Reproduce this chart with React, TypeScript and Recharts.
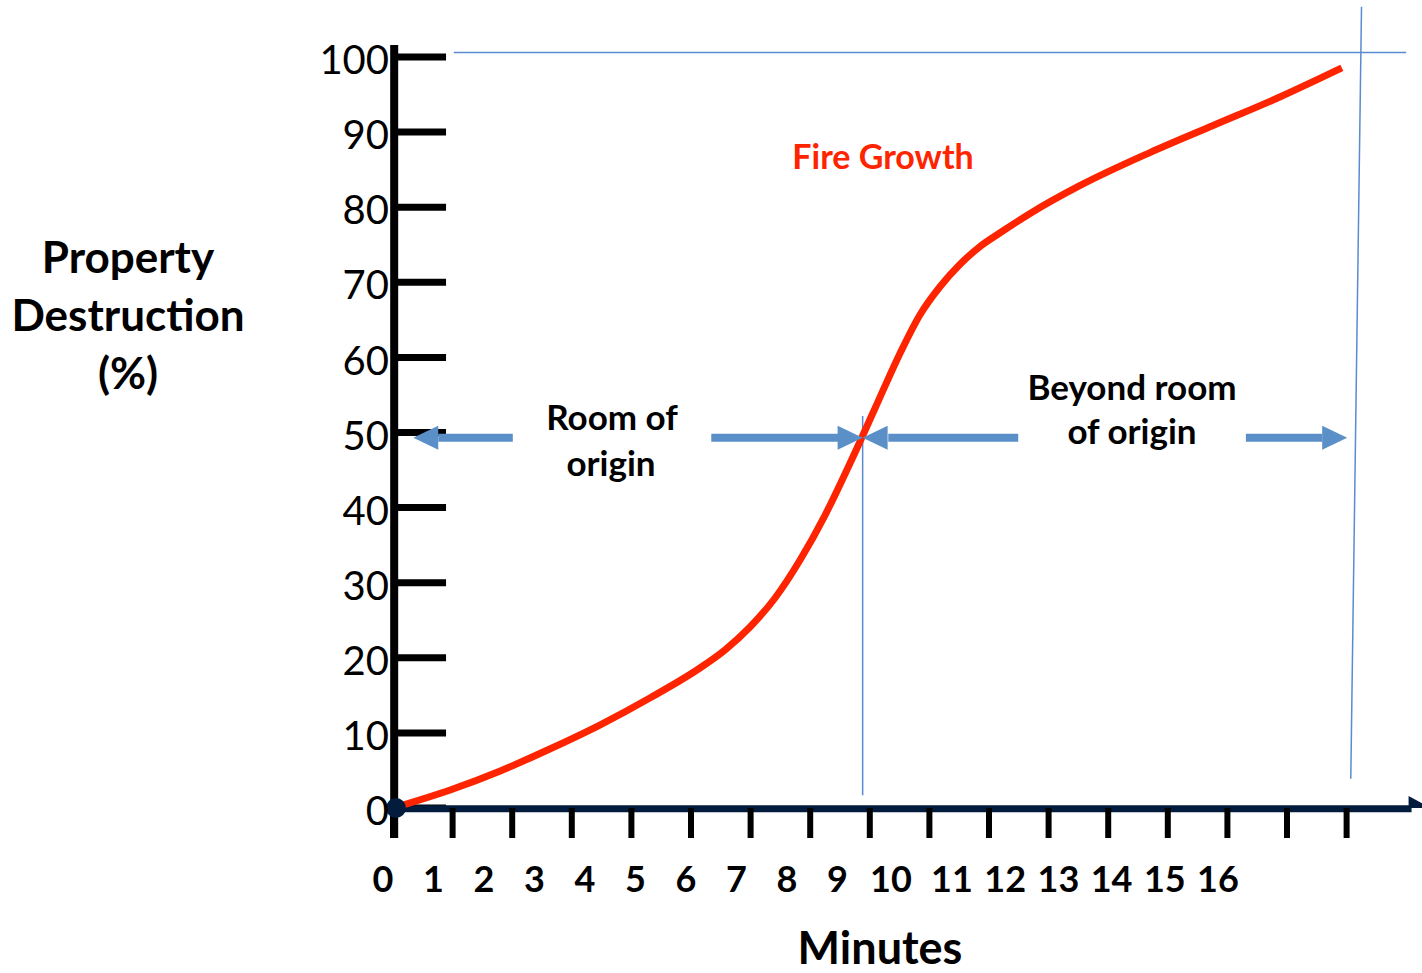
import React from 'react';
import { ComposedChart, Line, Scatter, XAxis, YAxis, ReferenceLine, ReferenceDot } from 'recharts';

// ---- data (x in axis-tick units, y in % destruction) ----
const curveMinutes = [0, 0.96, 1.8, 2.63, 3.47, 4.31, 5.15, 5.57, 5.99, 6.41, 6.83, 7.25, 7.67, 8.09, 8.51, 8.84, 9.18, 9.51, 9.85, 10.18, 10.69, 11.53, 12.7, 13.76, 14.88, 15.92];
const curveDestruction = [0, 2.4, 4.93, 7.86, 11.05, 14.65, 18.64, 21.04, 24.1, 27.96, 33.02, 39.01, 45.94, 53.26, 60.59, 65.65, 69.44, 72.37, 74.77, 76.56, 79.16, 82.89, 87.27, 90.88, 94.67, 98.54];

const yTickValues = [0, 10, 20, 30, 40, 50, 60, 70, 80, 90, 100];
const xTickValues = [0, 1, 2, 3, 4, 5, 6, 7, 8, 9, 10, 11, 12, 13, 14, 15, 16];
const xTickLabels = ['0', '1', '2', '3', '4', '5', '6', '7', '8', '9', '10', '11', '12', '13', '14', '15', '16'];

const arrowLevel = 49.3;
const shaftStarts = [2.01, 5.34, 10.49, 14.31];
const shaftEnds = [0.76, 7.55, 8.31, 15.59];
const arrowTips = [0.34, 7.88, 7.88, 16.01];
const arrowDirs = ['left', 'right', 'left', 'right'];

const flashoverMinute = 7.88;
const flashoverTop = 52.2;
const flashoverBottom = 1.7;
const topLineLevel = 100.6;
const topLineStart = 1.02;
const topLineEnd = 17.0;
const slantTop = { x: 16.25, y: 106.7 };
const slantBottom = { x: 16.07, y: 3.9 };
const axisEnd = 17.04;
const yAxisTop = 101.6;
const yTickLength = 0.89;

const X_MAX = 17.265;
const Y_MAX = 106.92;

const curveData = curveMinutes.map((x, i) => ({ x, y: curveDestruction[i] }));
const shafts = shaftStarts.map((s, i) => [
  { x: s, y: arrowLevel },
  { x: shaftEnds[i], y: arrowLevel },
]);
const heads = arrowTips.map((x, i) => ({ x, y: arrowLevel, dir: arrowDirs[i] }));
const axisHead = [{ x: axisEnd, y: 0 }];

const FONT = "Lato, 'Open Sans', sans-serif";
const NAVY = '#031c3d';
const BLUE = '#5b8fc8';
const THIN = '#5a8bcf';
const RED = '#ff2400';

const ArrowHead = (props: any) => {
  const { cx, cy, payload } = props;
  const d = payload.dir === 'left' ? -1 : 1;
  const L = 25;
  const H = 12;
  return (
    <polygon
      points={`${cx},${cy} ${cx - d * L},${cy - H} ${cx - d * L},${cy + H}`}
      fill={BLUE}
    />
  );
};

const AxisHead = (props: any) => {
  const { cx, cy } = props;
  return <polygon points={`${cx},${cy - 12} ${cx + 24},${cy + 1} ${cx},${cy + 14}`} fill={NAVY} />;
};

const labelCenter = (k: number) =>
  k < 10 ? 383 + 50.5 * k : k === 10 ? 891 : 952 + (k - 11) * 53.2;

const XTick = (props: any) => {
  const { index } = props;
  return (
    <text
      x={labelCenter(index)}
      y={892}
      textAnchor="middle"
      fontFamily={FONT}
      fontWeight={700}
      fontSize={36}
      fill="#000"
    >
      {xTickLabels[index]}
    </text>
  );
};

export default function App() {
  return (
    <div style={{ position: 'absolute', left: 0, top: 0, width: 1422, height: 973, background: '#fff' }}>
      <ComposedChart width={1422} height={973} margin={{ top: 5, right: 0, bottom: 0, left: 0 }}>
        <XAxis
          type="number"
          dataKey="x"
          domain={[0, X_MAX]}
          ticks={xTickValues}
          interval={0}
          allowDataOverflow
          axisLine={false}
          tickLine={{ stroke: '#000', strokeWidth: 6 }}
          tickSize={30}
          tick={<XTick />}
          height={165}
        />
        <YAxis
          type="number"
          dataKey="y"
          domain={[0, Y_MAX]}
          ticks={yTickValues}
          interval={0}
          allowDataOverflow
          width={393}
          axisLine={false}
          tickLine={false}
          tickSize={0}
          tickMargin={4}
          tick={{ fill: '#000', fontSize: 40, fontFamily: FONT, dy: 3 }}
        />

        {/* thin blue guide lines */}
        <ReferenceLine
          ifOverflow="visible"
          segment={[{ x: topLineStart, y: topLineLevel }, { x: topLineEnd, y: topLineLevel }]}
          stroke={THIN}
          strokeWidth={1.5}
        />
        <ReferenceLine
          ifOverflow="visible"
          segment={[{ x: flashoverMinute, y: flashoverTop }, { x: flashoverMinute, y: flashoverBottom }]}
          stroke={THIN}
          strokeWidth={1.5}
        />
        <ReferenceLine
          ifOverflow="visible"
          segment={[slantTop, slantBottom]}
          stroke={THIN}
          strokeWidth={1.5}
        />

        {/* y tick marks */}
        {yTickValues.map((v) => (
          <ReferenceLine
            key={`yt${v}`}
            ifOverflow="visible"
            segment={[{ x: 0, y: v }, { x: yTickLength, y: v }]}
            stroke="#000"
            strokeWidth={7}
          />
        ))}

        {/* axes lines */}
        <ReferenceLine
          ifOverflow="visible"
          segment={[{ x: 0.02, y: -4 }, { x: 0.02, y: yAxisTop }]}
          stroke="#000"
          strokeWidth={8}
        />
        <ReferenceLine
          ifOverflow="visible"
          segment={[{ x: 0, y: -0.1 }, { x: axisEnd + 0.05, y: -0.1 }]}
          stroke={NAVY}
          strokeWidth={7}
        />
        <ReferenceDot x={0.05} y={0} r={10} fill={NAVY} stroke="none" ifOverflow="visible" />
        <Scatter data={axisHead} dataKey="y" shape={<AxisHead />} isAnimationActive={false} />

        {/* blue arrows */}
        {shafts.map((d, i) => (
          <Line
            key={`sh${i}`}
            data={d}
            dataKey="y"
            stroke={BLUE}
            strokeWidth={8}
            dot={false}
            activeDot={false}
            isAnimationActive={false}
            type="linear"
          />
        ))}
        <Scatter data={heads} dataKey="y" shape={<ArrowHead />} isAnimationActive={false} />

        {/* fire growth curve */}
        <Line
          data={curveData}
          dataKey="y"
          type="monotone"
          stroke={RED}
          strokeWidth={7}
          dot={false}
          activeDot={false}
          isAnimationActive={false}
        />
      </ComposedChart>

      <svg
        width={1422}
        height={973}
        style={{ position: 'absolute', left: 0, top: 0, pointerEvents: 'none' }}
        fontFamily={FONT}
        fontWeight={700}
      >
        <g textAnchor="middle" fill="#000" fontSize={44}>
          <text x={128} y={273}>Property</text>
          <text x={128} y={331}>Destruction</text>
          <text x={128} y={389}>(%)</text>
        </g>
        <text x={883} y={169} textAnchor="middle" fill={RED} fontSize={34}>Fire Growth</text>
        <g textAnchor="middle" fill="#000" fontSize={35}>
          <text x={612} y={430}>Room of</text>
          <text x={611} y={476}>origin</text>
          <text x={1132} y={400}>Beyond room</text>
          <text x={1132} y={444}>of origin</text>
        </g>
        <text x={880} y={964} textAnchor="middle" fill="#000" fontSize={45}>Minutes</text>
      </svg>
    </div>
  );
}
